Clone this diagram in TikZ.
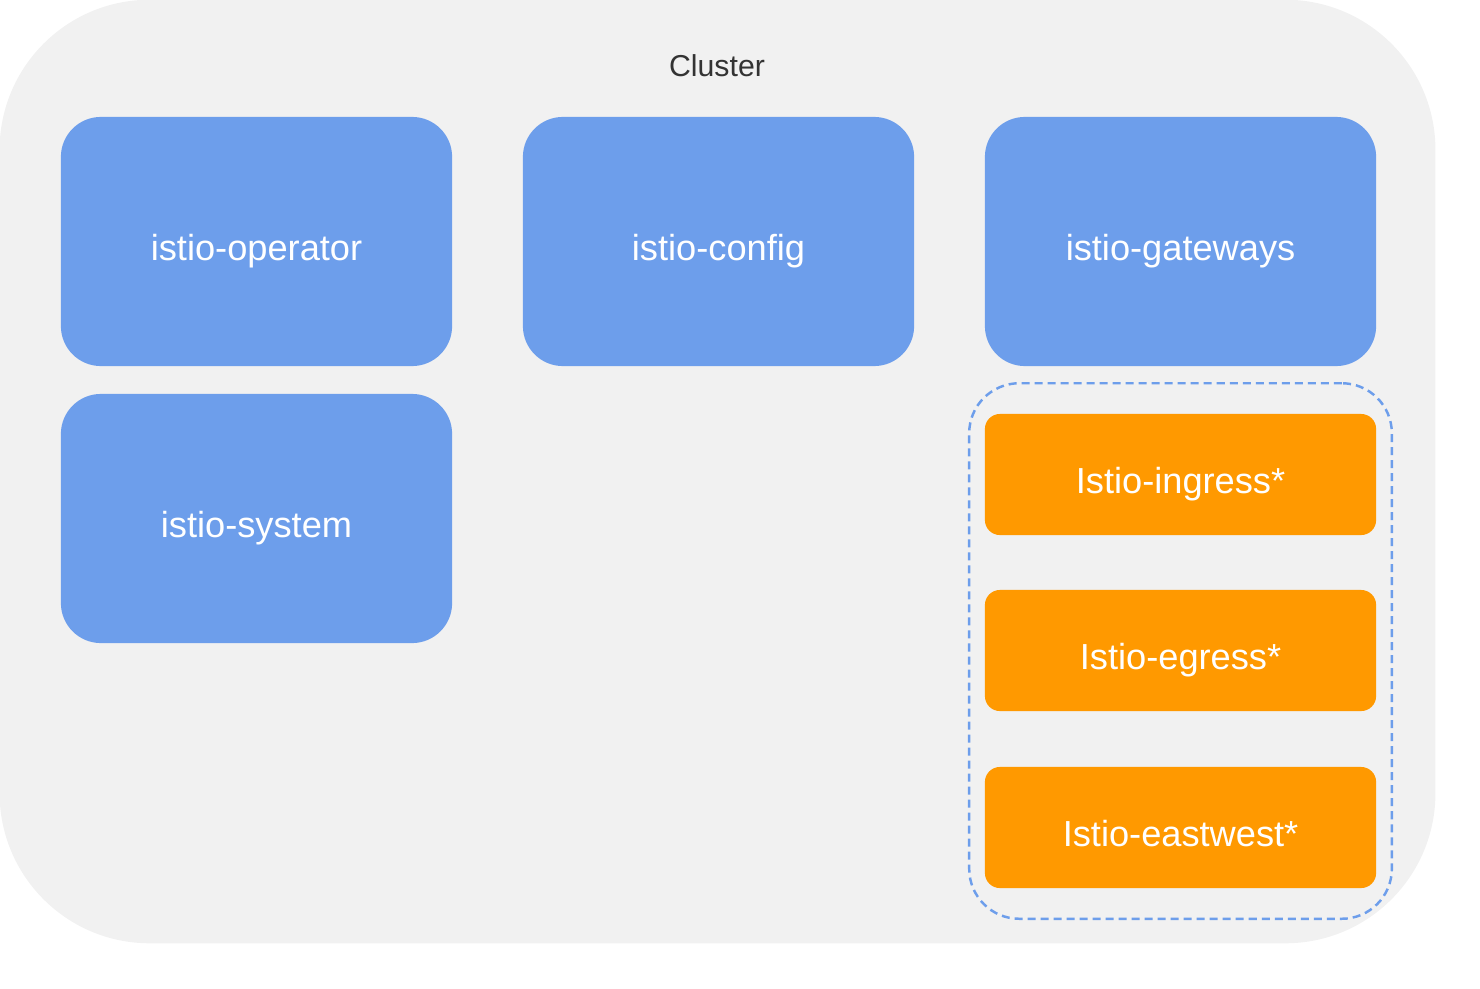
\documentclass[tikz,border=0pt]{standalone}
\usepackage{fontspec}
\setmainfont{Liberation Sans}
\usetikzlibrary{fit}

\definecolor{clustergray}{HTML}{F1F1F1}
\definecolor{nsblue}{HTML}{6D9EEB}
\definecolor{gworange}{HTML}{FF9900}
\definecolor{labelgray}{HTML}{333333}

\tikzset{
  nsbox/.style={fill=nsblue, draw=none, rounded corners=0.4cm, minimum width=3.91cm,
    minimum height=2.49cm, text=white, text height=0.46cm, text depth=0.08cm,
    font=\fontsize{10.3}{12}\selectfont},
  gwbox/.style={fill=gworange, draw=none, rounded corners=0.15cm, minimum width=3.91cm,
    minimum height=1.21cm, text=white, text height=0.46cm, text depth=0.08cm,
    font=\fontsize{10.3}{12}\selectfont},
  gwgroup/.style={draw=nsblue, line width=0.7pt, dash pattern=on 0.08cm off 0.05cm,
    rounded corners=0.5cm, inner xsep=0.15cm, inner ysep=0.3cm}
}

\begin{document}
\begin{tikzpicture}[x=0.01cm, y=-0.01cm]
    \useasboundingbox (0, 0) rectangle (1480, 988);

    \node[fill=clustergray, rounded corners=1.5cm, minimum width=14.35cm,
      minimum height=9.43cm, inner sep=0] (cluster) at (717.5, 471.5) {};
    \node[text=labelgray, font=\fontsize{8.6}{10}\selectfont] (clusterlabel) at (717, 66) {Cluster};

    \node[nsbox] (operator) at (256.5, 241.5) {istio-operator};
    \node[nsbox] (config) at (718.5, 241.5) {istio-config};
    \node[nsbox] (gateways) at (1180.5, 241.5) {istio-gateways};
    \node[nsbox] (system) at (256.5, 518.5) {istio-system};

    \node[gwbox] (ingress) at (1180.5, 474.5) {Istio-ingress*};
    \node[gwbox] (egress) at (1180.5, 650.5) {Istio-egress*};
    \node[gwbox] (eastwest) at (1180.5, 827.5) {Istio-eastwest*};

    \node[gwgroup, fit=(ingress)(eastwest)] (gwset) {};
  \end{tikzpicture}
\end{document}
